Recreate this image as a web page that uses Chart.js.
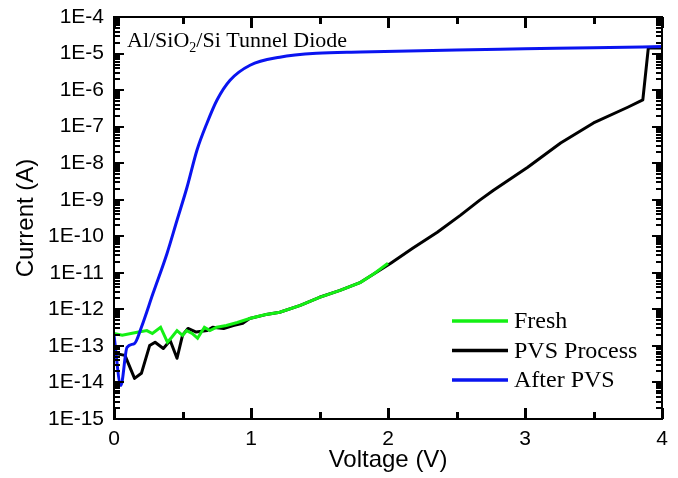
<!DOCTYPE html>
<html><head><meta charset="utf-8">
<script src="https://cdn.jsdelivr.net/npm/chart.js@4/dist/chart.umd.min.js"></script>
<style>html,body{margin:0;padding:0;background:#fff;}#wrap{width:678px;height:478px;}</style>
</head><body><div id="wrap"><canvas id="c" width="678" height="478"></canvas></div>
<script>
// ---- data (voltage in V, current in A) ----
const freshV = [0, 0.06, 0.16, 0.24, 0.28, 0.34, 0.39, 0.42, 0.46, 0.50, 0.53, 0.57, 0.61, 0.66, 0.70, 0.75, 0.82, 0.90, 0.99, 1.10, 1.21, 1.36, 1.50, 1.65, 1.80, 1.90, 2.00];
const freshI = [2.19e-13, 1.95e-13, 2.34e-13, 2.63e-13, 2.19e-13, 3.24e-13, 1.26e-13, 1.70e-13, 2.63e-13, 1.95e-13, 2.63e-13, 2.19e-13, 1.62e-13, 3.24e-13, 2.63e-13, 3.24e-13, 3.63e-13, 4.37e-13, 5.62e-13, 7.08e-13, 8.32e-13, 1.29e-12, 2.14e-12, 3.31e-12, 5.50e-12, 9.55e-12, 1.82e-11];

const pvsV = [0, 0.08, 0.15, 0.20, 0.26, 0.30, 0.36, 0.41, 0.46, 0.50, 0.54, 0.60, 0.68, 0.72, 0.80, 0.87, 0.94, 0.99, 1.10, 1.21, 1.36, 1.50, 1.65, 1.80, 2.02, 2.18, 2.36, 2.53, 2.67, 2.77, 3.02, 3.26, 3.50, 3.75, 3.86, 3.90, 4.00];
const pvsI = [6.3e-14, 5.5e-14, 1.29e-14, 1.78e-14, 1.02e-13, 1.26e-13, 8.5e-14, 1.41e-13, 4.6e-14, 1.95e-13, 3.0e-13, 2.4e-13, 2.63e-13, 3.24e-13, 3.0e-13, 3.63e-13, 4.17e-13, 5.62e-13, 7.08e-13, 8.32e-13, 1.29e-12, 2.14e-12, 3.31e-12, 5.50e-12, 1.82e-11, 4.68e-11, 1.29e-10, 3.80e-10, 9.77e-10, 1.82e-9, 7.76e-9, 3.55e-8, 1.26e-7, 3.39e-7, 5.37e-7, 1.41e-5, 1.41e-5];

const afterV = [0, 0.05, 0.095, 0.15, 0.20, 0.285, 0.387, 0.46, 0.533, 0.606, 0.679, 0.752, 0.847, 0.993, 1.21, 1.48, 1.80, 2.50, 3.00, 3.50, 4.00];
const afterI = [1.95e-13, 8.3e-15, 9.1e-14, 1.17e-13, 3.24e-13, 2.75e-12, 3.39e-11, 2.75e-10, 2.19e-9, 2.29e-8, 1.26e-7, 5.37e-7, 1.86e-6, 4.79e-6, 7.94e-6, 1.02e-5, 1.10e-5, 1.26e-5, 1.35e-5, 1.45e-5, 1.55e-5];

const seriesLabels = ['Fresh', 'PVS Process', 'After PVS'];
const xTicks = [0, 1, 2, 3, 4];
const xTickLabels = ['0', '1', '2', '3', '4'];
const yTicks = [1e-15, 1e-14, 1e-13, 1e-12, 1e-11, 1e-10, 1e-9, 1e-8, 1e-7, 1e-6, 1e-5, 1e-4];
const yTickLabels = ['1E-15', '1E-14', '1E-13', '1E-12', '1E-11', '1E-10', '1E-9', '1E-8', '1E-7', '1E-6', '1E-5', '1E-4'];
const annotationMain = 'Al/SiO';
const annotationSub = '2';
const annotationRest = '/Si Tunnel Diode';

const pts = (xs, ys) => xs.map((x, i) => ({x: x, y: ys[i]}));

const framePlugin = {
  id: 'frameTicks',
  afterDraw(chart) {
    const ctx = chart.ctx, a = chart.chartArea;
    const xs = chart.scales.x, ys = chart.scales.y;
    ctx.save();
    ctx.fillStyle = '#000';
    ctx.fillRect(a.left - 1, a.top - 1, a.right - a.left + 2, 2);
    ctx.fillRect(a.left - 1, a.bottom - 1, a.right - a.left + 2, 2);
    ctx.fillRect(a.left - 1, a.top - 1, 2, a.bottom - a.top + 2);
    ctx.fillRect(a.right - 1, a.top - 1, 2, a.bottom - a.top + 2);
    for (let k = 0; k <= 8; k++) {
      const px = Math.round(xs.getPixelForValue(k * 0.5));
      const len = (k % 2 === 0) ? 11 : 7;
      ctx.fillRect(px - 1, a.bottom - len, 3, len);
      ctx.fillRect(px - 1, a.top, 3, len);
    }
    for (let d = -15; d <= -4; d++) {
      for (let m = 1; m <= 9; m++) {
        const val = m * Math.pow(10, d);
        if (val > 1.0001e-4) break;
        const py = Math.round(ys.getPixelForValue(val));
        const len = (m === 1) ? 10 : 6;
        ctx.fillRect(a.left, py - 1, len, 2);
        ctx.fillRect(a.right - len, py - 1, len, 2);
      }
    }

    ctx.textBaseline = 'alphabetic';
    ctx.textAlign = 'left';
    let tx = a.left + 13, ty = a.top + 30;
    ctx.font = '22px "Liberation Serif", "Times New Roman", serif';
    ctx.fillText(annotationMain, tx, ty);
    tx += ctx.measureText(annotationMain).width;
    ctx.font = '14px "Liberation Serif", "Times New Roman", serif';
    ctx.fillText(annotationSub, tx, ty + 5);
    tx += ctx.measureText(annotationSub).width;
    ctx.font = '22px "Liberation Serif", "Times New Roman", serif';
    ctx.fillText(annotationRest, tx, ty);

    ctx.font = '24px "Liberation Serif", "Times New Roman", serif';
    ctx.textBaseline = 'middle';
    chart.data.datasets.forEach((ds, i) => {
      const ly = a.bottom - 98 + i * 29.5;
      const lx = a.right - 210;
      ctx.strokeStyle = ds.borderColor;
      ctx.lineWidth = 3.5;
      ctx.beginPath();
      ctx.moveTo(lx, ly); ctx.lineTo(lx + 56, ly);
      ctx.stroke();
      ctx.fillStyle = '#000';
      ctx.fillText(ds.label, lx + 62, ly + 1);
    });
    ctx.restore();
  }
};

new Chart(document.getElementById('c'), {
  type: 'line',
  data: {
    datasets: [
      {label: seriesLabels[0], data: pts(freshV, freshI), borderColor: '#14f014', borderWidth: 3, pointRadius: 0, tension: 0, order: 1},
      {label: seriesLabels[1], data: pts(pvsV, pvsI), borderColor: '#000000', borderWidth: 3, pointRadius: 0, tension: 0, borderJoinStyle: 'round', order: 2},
      {label: seriesLabels[2], data: pts(afterV, afterI), borderColor: '#0a14f0', borderWidth: 3, pointRadius: 0, cubicInterpolationMode: 'monotone', order: 0}
    ]
  },
  options: {
    responsive: false,
    animation: false,
    devicePixelRatio: 1,
    layout: {padding: {top: 17, right: 16, left: 0, bottom: 0}},
    plugins: {legend: {display: false}, tooltip: {enabled: false}},
    scales: {
      x: {
        type: 'linear', min: 0, max: 4,
        afterBuildTicks: (s) => { s.ticks = xTicks.map(v => ({value: v})); },
        afterFit: (s) => { s.height = 59; s.paddingLeft = 0; s.paddingRight = 0; },
        grid: {display: false, drawTicks: false},
        border: {display: false},
        ticks: {
          color: '#000', padding: 8, maxRotation: 0,
          font: {family: '"Liberation Sans", Arial, sans-serif', size: 21},
          callback: (v) => { const i = xTicks.indexOf(v); return i >= 0 ? xTickLabels[i] : ''; }
        },
        title: {display: true, text: 'Voltage (V)', color: '#000', padding: {top: 0, bottom: 3},
          font: {family: '"Liberation Sans", Arial, sans-serif', size: 24}}
      },
      y: {
        type: 'logarithmic', min: 1e-15, max: 1e-4,
        afterBuildTicks: (s) => { s.ticks = yTicks.map(v => ({value: v})); },
        afterFit: (s) => { s.width = 114; s.paddingTop = 0; s.paddingBottom = 0; },
        grid: {display: false, drawTicks: false},
        border: {display: false},
        ticks: {
          color: '#000', padding: 10,
          font: {family: '"Liberation Sans", Arial, sans-serif', size: 21},
          callback: (v) => { const i = yTicks.findIndex(t => Math.abs(t - v) / t < 1e-6); return i >= 0 ? yTickLabels[i] : ''; }
        },
        title: {display: true, text: 'Current (A)', color: '#000', padding: {top: 12, bottom: 0},
          font: {family: '"Liberation Sans", Arial, sans-serif', size: 24}}
      }
    }
  },
  plugins: [framePlugin]
});
</script>
</body></html>
